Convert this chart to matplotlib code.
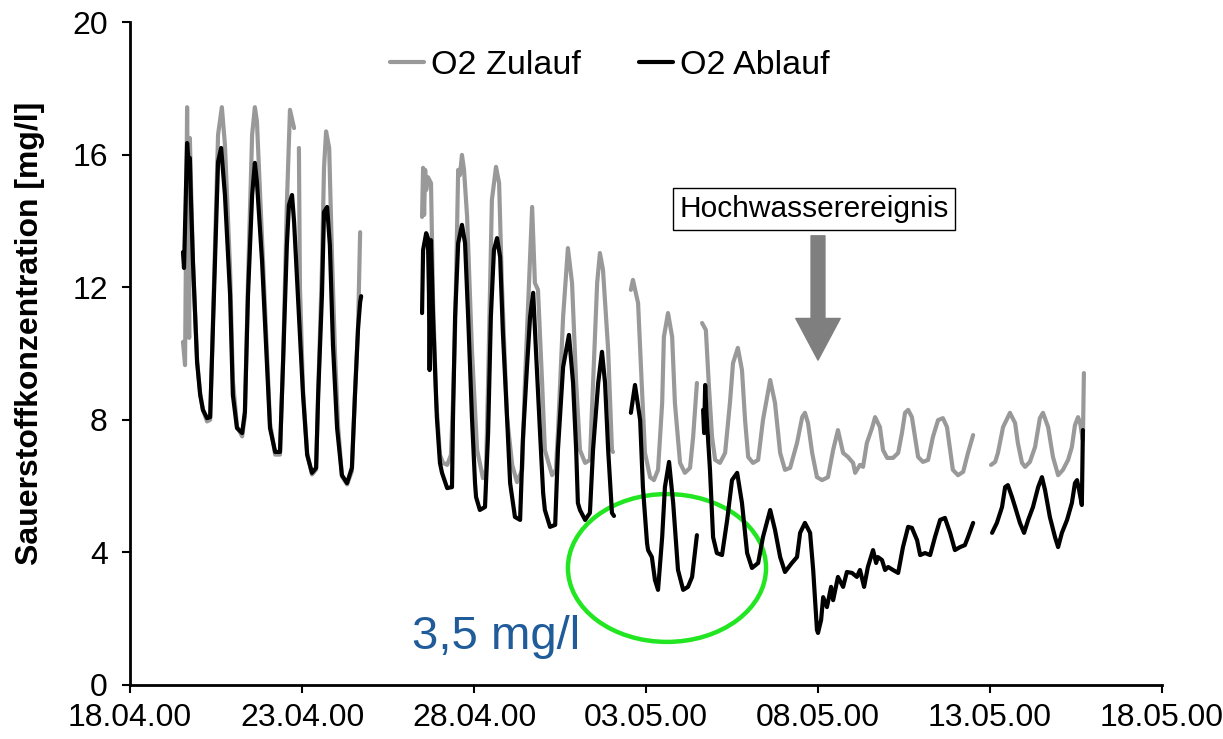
import numpy as np
import matplotlib
matplotlib.use("Agg")
import matplotlib.pyplot as plt
import matplotlib.dates as mdates
from matplotlib.patches import Ellipse
from datetime import datetime

plt.rcParams['font.family'] = ['Liberation Sans', 'DejaVu Sans']

NAN = np.nan
# time axis: days since 18.04.2000 00:00
start_date = datetime(2000, 4, 18)
tick_days = [0, 5, 10, 15, 20, 25, 30]

# O2 Zulauf (inflow) [mg/l]
zulauf_days = [
    1.54, 1.60, 1.66, 1.72, 1.74, 1.83, 1.95, 2.04, 2.12, 2.24, 2.33, 2.38, 2.47, 2.56, 2.67, 2.76,
    2.91, 2.99, 3.11, 3.26, 3.34, 3.43, 3.55, 3.63, 3.69, 3.84, 3.98, 4.07, 4.22, 4.36, 4.45, 4.56,
    4.65, 4.77, 4.84, 4.91, 4.94, 5.03, 5.15, 5.29, 5.41, 5.47, 5.58, 5.64, 5.70, 5.79, 5.87, 5.96,
    6.05, 6.16, 6.31, 6.45, 6.54, 6.63, 6.69,
    7.5,
    8.49, 8.52, 8.55, 8.58, 8.61, 8.66, 8.75, 8.81, 8.90, 9.01, 9.10, 9.22, 9.33, 9.39, 9.45, 9.54,
    9.59, 9.65, 9.71, 9.80, 9.94, 10.09, 10.26, 10.35, 10.41, 10.52, 10.64, 10.73, 10.81, 10.96,
    11.11, 11.25, 11.40, 11.48, 11.60, 11.69, 11.77, 11.86, 11.98, 12.06, 12.27, 12.38, 12.44,
    12.59, 12.73, 12.85, 12.97, 13.08, 13.23, 13.37, 13.46, 13.58, 13.66, 13.75, 13.90, 14.01, 14.04,
    14.3,
    14.56, 14.62, 14.77, 14.88, 14.97, 15.12, 15.23, 15.35, 15.47, 15.52, 15.64, 15.76, 15.84,
    15.99, 16.13, 16.28, 16.37, 16.48,
    16.55,
    16.63, 16.74, 16.83, 16.92, 17.01, 17.15, 17.30, 17.44, 17.53, 17.67, 17.79, 17.88, 17.97,
    18.11, 18.26, 18.40, 18.61, 18.75, 18.90, 19.04, 19.19, 19.39, 19.54, 19.62, 19.71, 19.83,
    19.97, 20.12, 20.29, 20.44, 20.58, 20.73, 20.87, 21.02, 21.08, 21.22, 21.31, 21.42, 21.57,
    21.66, 21.80, 21.89, 22.01, 22.18, 22.33, 22.44, 22.53, 22.62, 22.73, 22.82, 22.91, 23.05,
    23.20, 23.34, 23.49, 23.63, 23.75, 23.84, 23.92, 24.07, 24.22, 24.36, 24.51,
    24.8,
    25.03, 25.15, 25.23, 25.38, 25.58, 25.73, 25.81, 25.93, 26.02, 26.16, 26.31, 26.45, 26.54,
    26.69, 26.83, 26.98, 27.12, 27.27, 27.38, 27.47, 27.56, 27.62, 27.70, 27.73,
]
zulauf_vals = [
    10.35, 9.65, 17.43, 10.47, 16.50, 12.76, 9.80, 8.80, 8.30, 7.95, 8.00, 9.80, 13.20, 16.60, 17.43, 16.30,
    12.50, 9.20, 7.80, 7.50, 8.10, 12.20, 16.60, 17.43, 17.00, 13.40, 10.00, 7.90, 6.95, 6.95, 9.80, 14.50,
    17.35, 16.80, NAN, 16.20, 12.00, 8.90, 7.00, 6.35, 6.50, 8.80, 12.60, 15.60, 16.70, 16.20, 13.00, 10.00,
    7.80, 6.30, 6.05, 6.45, 8.80, 10.80, 13.66,
    NAN,
    14.12, 15.60, 14.18, 15.54, 14.93, 15.32, 15.14, 11.61, 8.60, 6.94, 6.70, 6.64, 6.94, 8.60, 10.71, 15.54,
    15.38, 15.99, 15.54, 14.12, 10.11, 7.09, 6.24, 6.49, 9.11, 14.63, 15.63, 15.14, 12.13, 8.08,
    6.64, 6.12, 6.49, 9.11, 12.13, 14.42, 12.13, 11.92, 9.11, 7.09, 6.33, 6.49, 7.60,
    11.10, 13.18, 12.13, 9.11, 7.09, 6.70, 6.79, 9.11, 12.13, 13.03, 12.52, 10.11, 7.09, 7.03,
    NAN,
    11.92, 12.22, 11.52, 8.99, 7.00, 6.27, 6.18, 6.49, 8.51, 10.50, 11.22, 10.50, 8.51,
    6.70, 6.40, 6.55, 7.48, 9.11,
    NAN,
    10.92, 10.71, 8.99, 7.48, 6.79, 6.70, 7.00, 8.51, 9.71, 10.17, 9.50, 7.99, 6.88,
    6.70, 6.79, 7.99, 9.20, 8.51, 7.00, 6.49, 6.55, 7.30, 8.08, 8.21, 7.90, 7.00,
    6.27, 6.18, 6.27, 7.09, 7.69, 7.00, 6.88, 6.70, 6.40, 6.64, 6.58, 7.30, 7.75,
    8.08, 7.78, 7.09, 6.85, 6.85, 7.00, 7.60, 8.21, 8.30, 8.08, 7.48, 6.88, 6.73,
    6.79, 7.48, 7.99, 8.05, 7.78, 7.09, 6.49, 6.33, 6.43, 7.00, 7.54,
    NAN,
    6.64, 6.73, 7.00, 7.78, 8.21, 7.90, 7.30, 6.70, 6.58, 6.73, 7.18, 8.05, 8.21,
    7.78, 6.88, 6.33, 6.49, 6.79, 7.18, 7.84, 8.08, 7.90, 7.39, 9.41,
]

# O2 Ablauf (outflow) [mg/l]
ablauf_days = [
    1.54, 1.57, 1.66, 1.72, 1.74, 1.77, 1.83, 1.95, 2.04, 2.12, 2.24, 2.33, 2.38, 2.47, 2.56, 2.65,
    2.76, 2.91, 2.99, 3.11, 3.26, 3.34, 3.43, 3.55, 3.63, 3.69, 3.84, 3.98, 4.07, 4.22, 4.36, 4.45,
    4.56, 4.62, 4.71, 4.77, 4.88, 5.03, 5.15, 5.29, 5.41, 5.47, 5.58, 5.64, 5.73, 5.81, 5.90, 6.02,
    6.16, 6.31, 6.45, 6.54, 6.63, 6.69, 6.72,
    7.5,
    8.49, 8.52, 8.61, 8.66, 8.69, 8.71, 8.75, 8.81, 8.92, 9.01, 9.07, 9.22, 9.36, 9.39, 9.45, 9.54,
    9.65, 9.74, 9.83, 9.94, 10.03, 10.06, 10.17, 10.32, 10.41, 10.49, 10.58, 10.67, 10.76, 10.84,
    10.96, 11.05, 11.19, 11.34, 11.42, 11.54, 11.63, 11.72, 11.80, 11.92, 12.01, 12.06, 12.21,
    12.36, 12.44, 12.59, 12.76, 12.88, 12.97, 13.02, 13.08, 13.23, 13.37, 13.46, 13.61, 13.72,
    13.81, 13.90, 14.01, 14.07,
    14.3,
    14.56, 14.68, 14.83, 14.91, 15.03, 15.06, 15.17, 15.26, 15.35, 15.47, 15.55, 15.67, 15.79,
    15.93, 16.08, 16.22, 16.34, 16.42, 16.48,
    16.55,
    16.66, 16.69, 16.72, 16.77, 16.86, 16.95, 17.06, 17.21, 17.36, 17.50, 17.65, 17.79, 17.94,
    18.08, 18.26, 18.40, 18.61, 18.75, 18.90, 19.04, 19.24, 19.39, 19.48, 19.62, 19.77, 19.86,
    19.97, 20.00, 20.09, 20.15, 20.26, 20.38, 20.44, 20.58, 20.73, 20.84, 20.99, 21.13, 21.22,
    21.34, 21.45, 21.60, 21.69, 21.74, 21.86, 21.95, 22.04, 22.18, 22.33, 22.47, 22.62, 22.73,
    22.88, 22.97, 23.11, 23.26, 23.40, 23.55, 23.69, 23.84, 23.98, 24.13, 24.27, 24.36, 24.51,
    24.8,
    25.06, 25.20, 25.35, 25.44, 25.52, 25.64, 25.73, 25.87, 25.99, 26.11, 26.25, 26.40, 26.51,
    26.60, 26.74, 26.89, 26.98, 27.09, 27.24, 27.38, 27.47, 27.53, 27.59, 27.67, 27.70,
]
ablauf_vals = [
    13.06, 12.58, 16.35, 15.54, 15.90, 14.69, 12.76, 9.74, 8.75, 8.30, 8.05, 8.08, 9.74, 12.76, 15.78, 16.20,
    14.78, 11.76, 8.75, 7.75, 7.60, 8.24, 11.76, 14.78, 15.75, 15.17, 12.76, 9.74, 7.75, 7.03, 7.03, 9.74,
    13.27, 14.48, 14.78, 13.97, 11.76, 8.75, 6.94, 6.40, 6.55, 8.75, 11.76, 14.27, 14.42, 13.27, 10.26, 7.75,
    6.33, 6.09, 6.55, 8.75, 10.77, 11.55, 11.73,
    NAN,
    11.22, 13.12, 13.63, 13.48, 11.83, 9.50, 13.42, 11.10, 8.08, 6.70, 6.40, 5.94, 5.97, 8.08, 11.10, 13.33,
    13.88, 13.33, 11.10, 8.08, 6.09, 5.67, 5.28, 5.37, 7.60, 11.10, 13.12, 13.48, 12.91, 10.62,
    8.08, 6.09, 5.07, 4.98, 7.39, 9.59, 11.10, 11.83, 10.11, 7.60, 5.79, 5.28, 4.77,
    4.83, 7.09, 9.59, 10.56, 9.11, 7.09, 5.49, 5.28, 4.98, 5.19, 7.09, 9.11, 10.05,
    9.11, 7.09, 5.19, 5.10,
    NAN,
    8.21, 9.05, 7.99, 5.97, 4.28, 4.07, 3.86, 3.17, 2.87, 4.46, 5.97, 6.73, 5.49,
    3.47, 2.87, 2.96, 3.26, 3.98, 4.52,
    NAN,
    8.30, 7.60, 9.05, 7.99, 6.49, 4.46, 3.98, 3.92, 4.98, 6.18, 6.40, 5.49, 3.98,
    3.53, 3.68, 4.46, 5.28, 4.68, 3.86, 3.41, 3.68, 3.86, 4.59, 4.89, 4.59, 3.47,
    1.66, 1.57, 1.96, 2.65, 2.35, 2.96, 2.56, 3.26, 2.96, 3.41, 3.38, 3.26, 3.47,
    2.96, 3.56, 4.07, 3.68, 3.86, 3.77, 3.47, 3.56, 3.47, 3.38, 4.16, 4.77, 4.74,
    4.37, 3.92, 3.98, 3.92, 4.46, 4.98, 5.04, 4.59, 4.07, 4.16, 4.22, 4.46, 4.89,
    NAN,
    4.59, 4.89, 5.37, 5.97, 6.03, 5.67, 5.37, 4.89, 4.59, 4.98, 5.37, 5.97, 6.27,
    5.88, 5.07, 4.46, 4.16, 4.59, 4.98, 5.49, 6.09, 6.18, 5.88, 5.43, 7.69,
]

series_labels = ['O2 Zulauf', 'O2 Ablauf']
y_ticks = [0, 4, 8, 12, 16, 20]

base = mdates.date2num(start_date)
zx = base + np.array(zulauf_days)
ax_ = base + np.array(ablauf_days)

fig = plt.figure(figsize=(12.23, 7.39), dpi=100)
ax = fig.add_axes([130 / 1223, 1 - 685 / 739, (1162 - 130) / 1223, (685 - 22) / 739])

ax.plot(zx, zulauf_vals, color='#999999', lw=3.0, label=series_labels[0], solid_capstyle='round')
ax.plot(ax_, ablauf_vals, color='black', lw=3.0, label=series_labels[1], solid_capstyle='round')

ax.set_xlim(base + tick_days[0], base + tick_days[-1])
ax.set_ylim(0, 20)
ax.set_yticks(y_ticks)
ax.set_xticks([base + d for d in tick_days])
ax.xaxis.set_major_formatter(mdates.DateFormatter('%d.%m.%y'))

for s in ['top', 'right']:
    ax.spines[s].set_visible(False)
for s in ['left', 'bottom']:
    ax.spines[s].set_linewidth(2.0)
ax.tick_params(axis='both', direction='out', length=6, width=1.5, labelsize=23)
ax.tick_params(axis='x', pad=7)
ax.tick_params(axis='y', pad=10)

ax.set_ylabel('Sauerstoffkonzentration [mg/l]', fontsize=23, fontweight='bold')
ax.yaxis.label.set_verticalalignment('center')
ax.yaxis.set_label_coords(-0.097, 0.531)

leg = ax.legend(loc='center', bbox_to_anchor=(0.465, 0.935), ncol=2, frameon=False,
                fontsize=24.5, handlelength=1.0, handletextpad=0.2, columnspacing=1.7)

# Annotations
ax.text(base + 19.88, 14.36, 'Hochwasserereignis', fontsize=21.5, ha='center', va='center',
        bbox=dict(boxstyle='square,pad=0.22', facecolor='white', edgecolor='black', linewidth=1.0))
ax.annotate('', xy=(base + 20.0, 9.8), xytext=(base + 20.0, 13.55),
            arrowprops=dict(arrowstyle='simple,head_length=3.0,head_width=3.2,tail_width=1.0',
                            color='#7f7f7f', shrinkA=0, shrinkB=0, mutation_scale=10))
ax.add_patch(Ellipse((base + 15.61, 3.53), width=5.76, height=4.46, fill=False,
                     edgecolor='#22e622', linewidth=3.2))
ax.text(base + 8.2, 1.45, '3,5 mg/l', fontsize=34, color='#1f5c99', ha='left', va='center')

fig.savefig('out.png', dpi=100)
